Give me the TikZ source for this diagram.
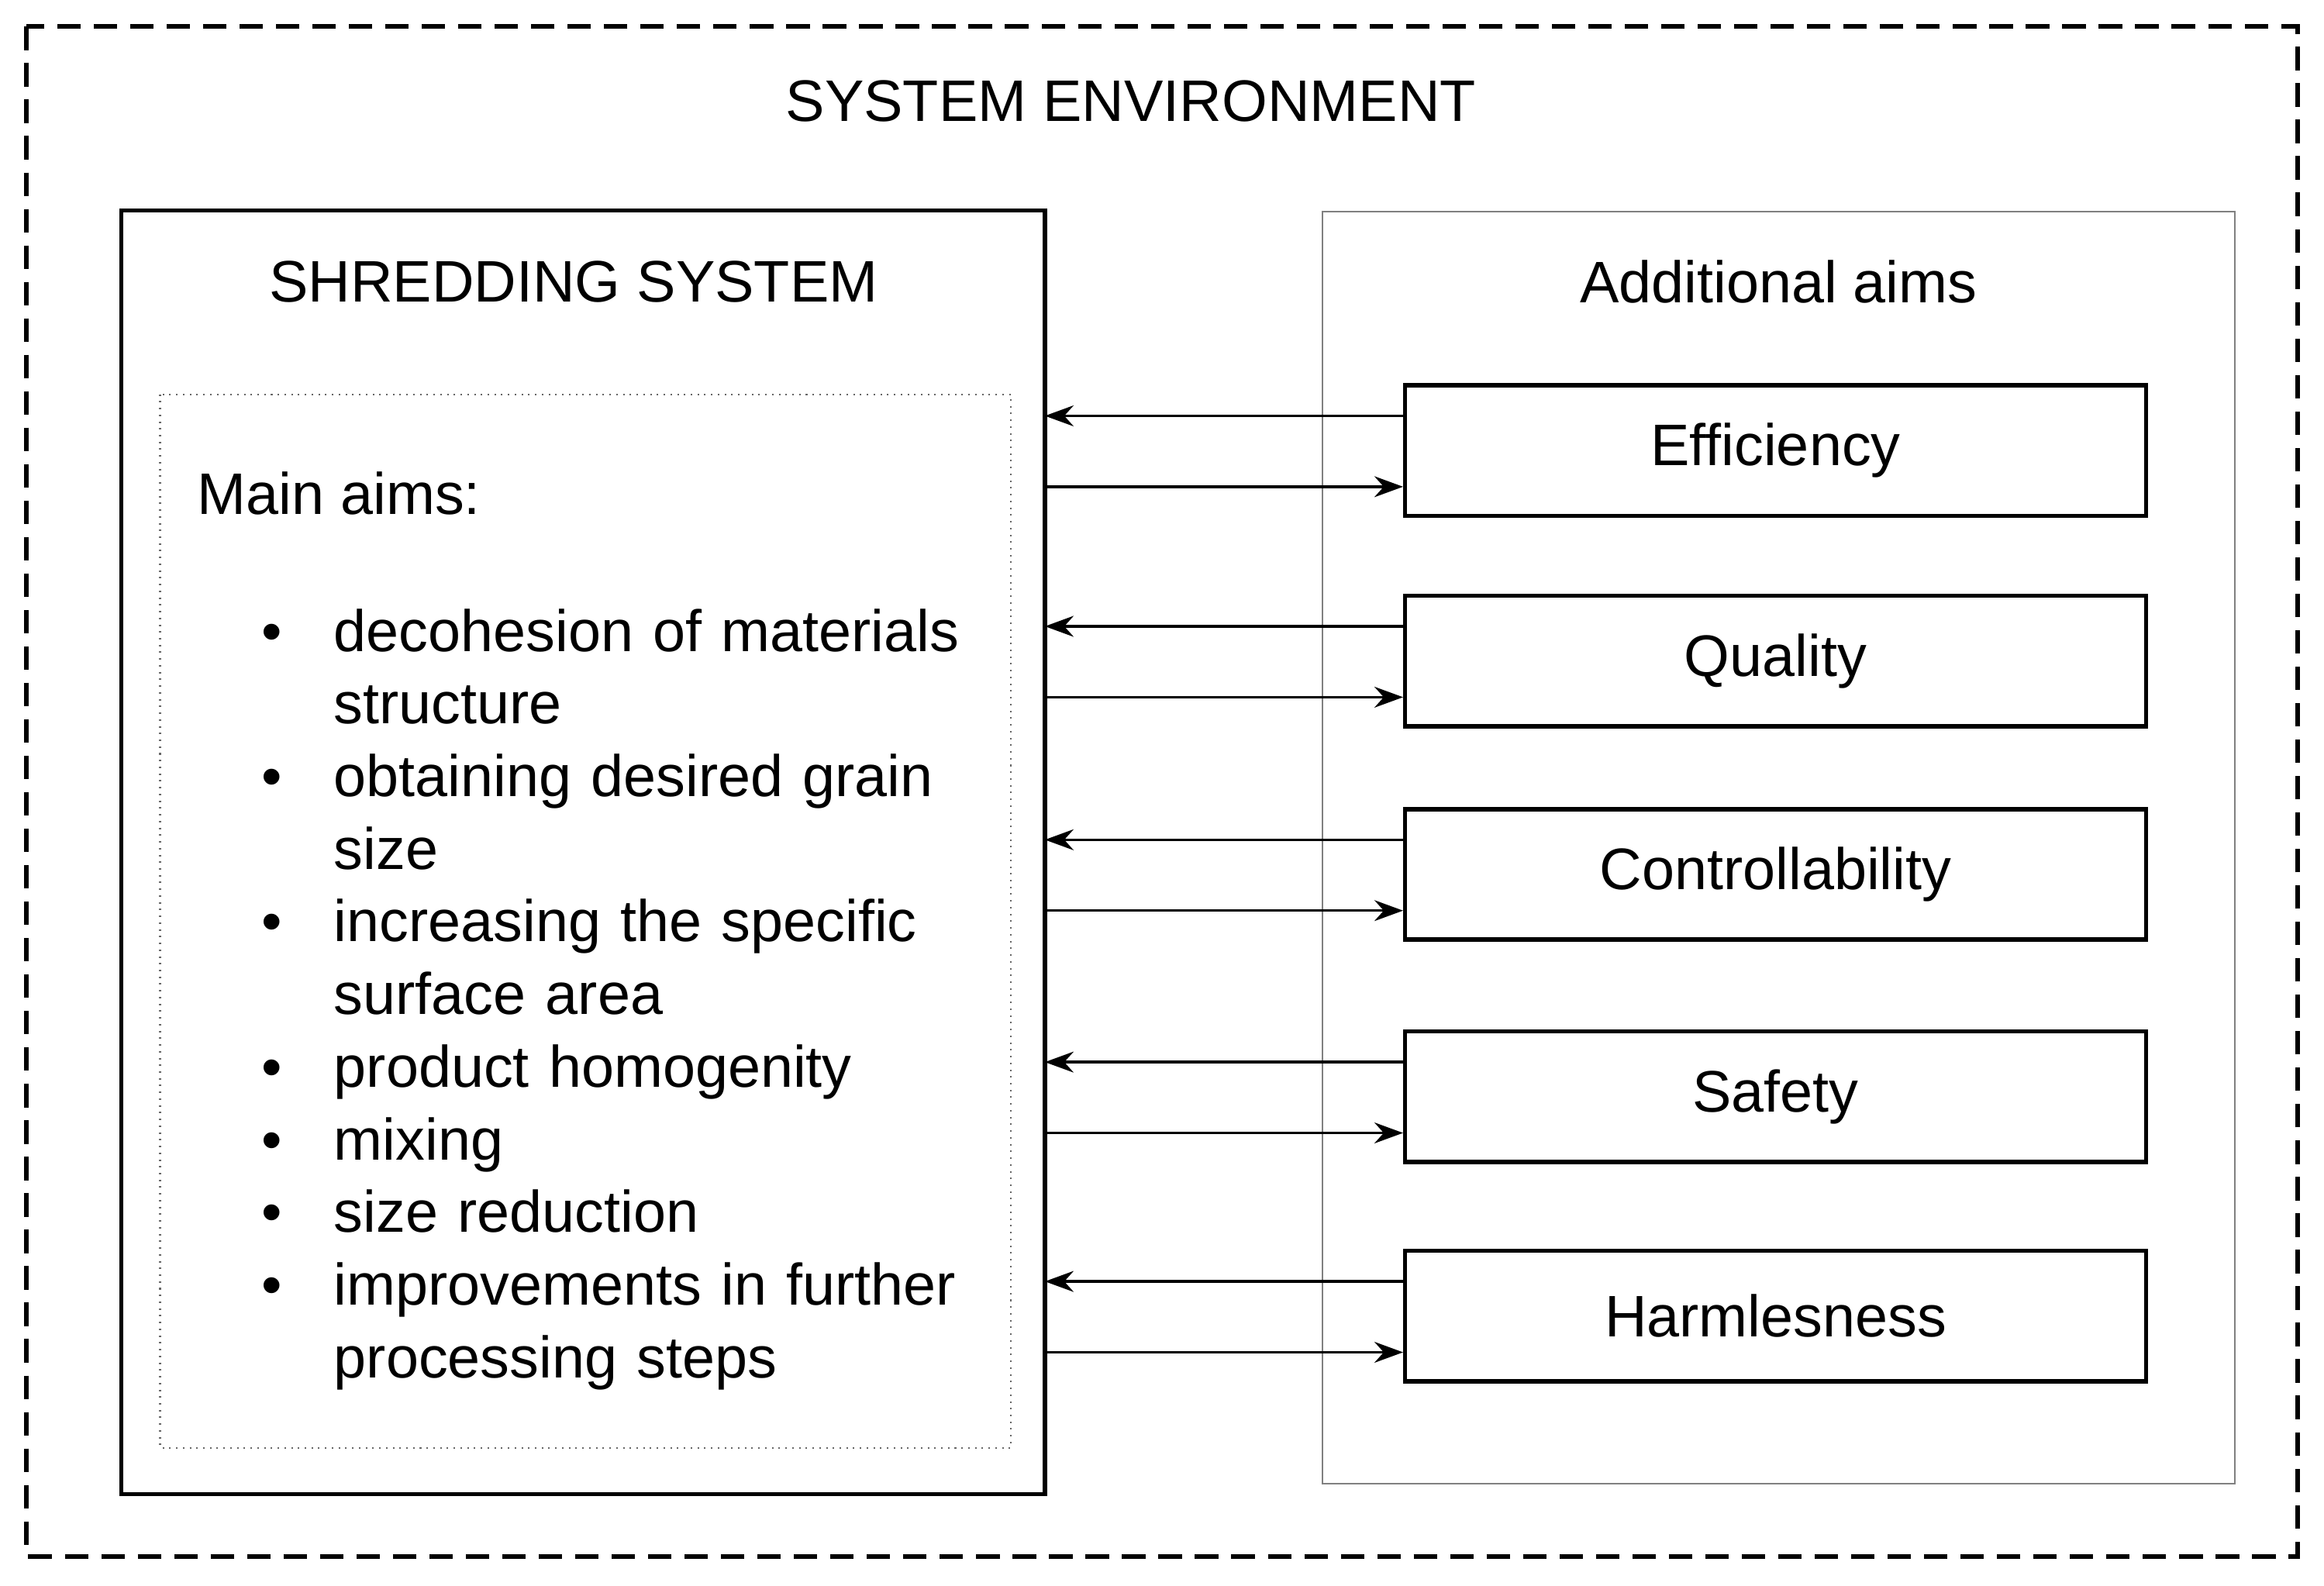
\documentclass[tikz,border=0pt]{standalone}
\usepackage{fontspec}
\setmainfont{Liberation Sans}
\usetikzlibrary{positioning,arrows.meta}

\begin{document}
\begin{tikzpicture}[x=0.02cm,y=-0.02cm,
  frame/.style={draw,line width=1.6pt,rectangle,inner sep=0pt},
  thinbox/.style={draw=gray,line width=0.6pt,rectangle,inner sep=0pt},
  aim/.style={draw,line width=1.6pt,rectangle,minimum width=10cm,minimum height=1.76cm,
    font=\fontsize{22.5}{27.9}\selectfont},
  lbl/.style={font=\fontsize{22.5}{27.9}\selectfont},
  link/.style={-{Stealth[length=11pt,width=8pt]},line width=1pt}]
\useasboundingbox (0,0) rectangle (1568,1070);
\draw [line width=1.8pt,dash pattern=on 9pt off 5pt] (18,18) rectangle (1550,1050);
\node (envtitle) [lbl] at (763,68) {SYSTEM ENVIRONMENT};

\draw [frame] (82,142) rectangle (705,1008);
\coordinate (shred) at (705,575);
\node (shredtitle) [lbl] at (387,190) {SHREDDING SYSTEM};
\draw [thinbox,draw=gray!80!black,dotted] (108,266) rectangle (682,977);
\node (mainaims) [lbl,anchor=west] at (127,333) {Main aims:};
\node (mainlist) [lbl,anchor=north west,inner sep=0pt,text width=11.2cm] at (127,390) {%
\begin{list}{\textbullet}{\setlength\leftmargin{1.96cm}\setlength\labelsep{0.7cm}%
  \setlength\itemsep{0pt}\setlength\topsep{0pt}\setlength\parsep{0pt}\setlength\partopsep{0pt}}
\item decohesion of materials structure
\item obtaining desired grain size
\item increasing the specific surface area
\item product homogenity
\item mixing
\item size reduction
\item improvements in further processing steps
\end{list}};

\draw [thinbox] (892,143) rectangle (1508,1001);
\node (addtitle) [lbl] at (1200,190) {Additional aims};

\node (eff)  [aim] at (1198,304) {Efficiency};
\node (qual) [aim] at (1198,446) {Quality};
\node (ctrl) [aim] at (1198,590) {Controllability};
\node (safe) [aim] at (1198,740) {Safety};
\node (harm) [aim] at (1198,888) {Harmlesness};

\foreach \n in {eff,qual,ctrl,safe,harm} {
  \draw [link] ([yshift=-0.44cm]\n.north west) -- ([yshift=-0.44cm]\n.north west -| shred);
  \draw [link] ([yshift=0.42cm]\n.south west -| shred) -- ([yshift=0.42cm]\n.south west);
}
\end{tikzpicture}
\end{document}
